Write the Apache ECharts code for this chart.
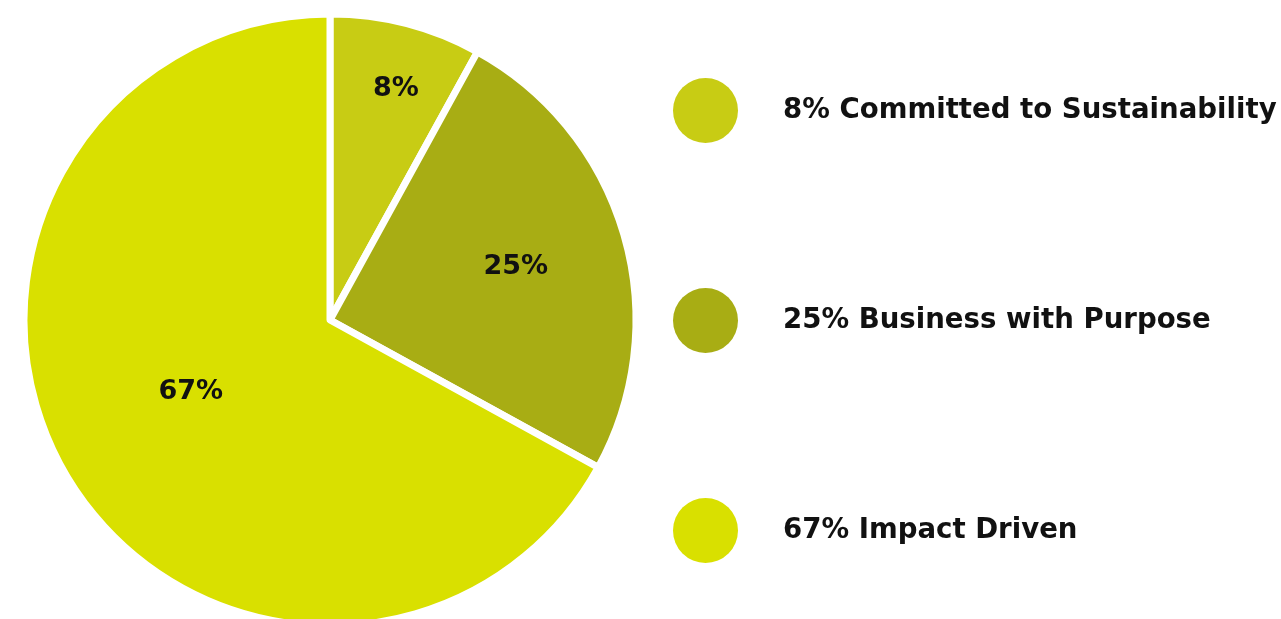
<!DOCTYPE html>
<html>
<head>
<meta charset="utf-8">
<script src="https://cdn.jsdelivr.net/npm/echarts@6/dist/echarts.min.js"></script>
<style>html,body{margin:0;padding:0;background:#fff;}#c{width:1281px;height:619px;}</style>
</head>
<body>
<div id="c"></div>
<script>
const categories = ['Committed to Sustainability', 'Business with Purpose', 'Impact Driven'];
const values = [8, 25, 67];
const colors = ['#c8cc14', '#a8ad14', '#d9e000'];
const labelOffsets = [[27, -80], [36, -9], [-5, -7]];

const chart = echarts.init(document.getElementById('c'));
const valueByName = {};
categories.forEach((c, i) => valueByName[c] = values[i]);

chart.setOption({
  animation: false,
  legend: {
    orient: 'vertical',
    left: 673,
    top: 78,
    padding: 0,
    icon: 'circle',
    itemWidth: 65,
    itemHeight: 65,
    itemGap: 145,
    selectedMode: false,
    itemStyle: { borderWidth: 0 },
    data: categories,
    formatter: name => valueByName[name] + '% ' + name,
    textStyle: {
      fontFamily: 'DejaVu Sans',
      fontWeight: 'bold',
      fontSize: 27.6,
      color: '#111',
      padding: [4, 0, 0, 40]
    }
  },
  series: [{
    type: 'pie',
    center: [330, 320],
    radius: [0, 306],
    startAngle: 90,
    clockwise: true,
    itemStyle: { borderColor: '#fff', borderWidth: 7 },
    label: {
      show: true,
      position: 'inside',
      formatter: '{c}%',
      fontFamily: 'DejaVu Sans',
      fontWeight: 'bold',
      fontSize: 27,
      color: '#111'
    },
    labelLine: { show: false },
    emphasis: { disabled: true },
    data: categories.map((c, i) => ({
      name: c,
      value: values[i],
      itemStyle: { color: colors[i] },
      label: { offset: labelOffsets[i] }
    }))
  }]
});
</script>
</body>
</html>
